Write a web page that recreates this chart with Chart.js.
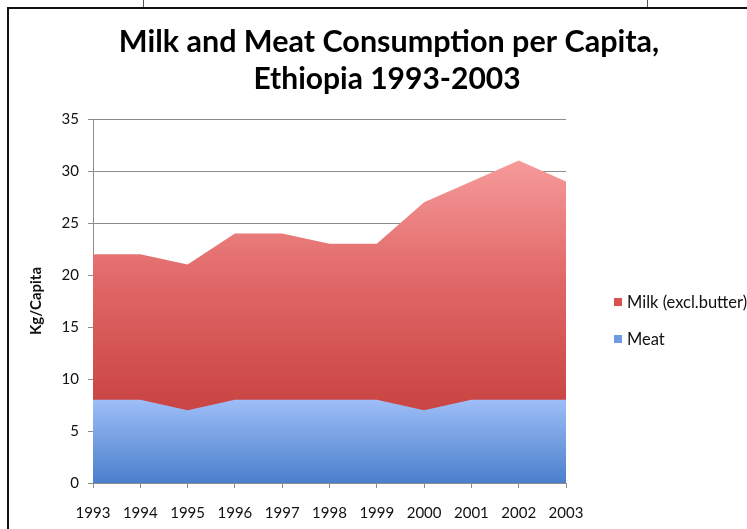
<!DOCTYPE html>
<html>
<head>
<meta charset="utf-8">
<script src="https://cdn.jsdelivr.net/npm/chart.js@4/dist/chart.umd.min.js"></script>
<style>
  html, body { margin: 0; padding: 0; background: #fff; overflow: hidden; }
  #wrap { position: relative; width: 747px; height: 529px; }
  #frame { position: absolute; left: 7px; top: 7px; right: 0; bottom: 0;
           border-left: 2px solid #111; border-top: 2px solid #111; }
  .tick { position: absolute; top: 0; width: 1px; height: 8px; background: #555; }
  canvas { position: absolute; left: 0; top: 0; }
</style>
</head>
<body>
<div id="wrap">
  <div class="tick" style="left:143px"></div>
  <div class="tick" style="left:647px"></div>
  <div id="frame"></div>
  <canvas id="chart" width="747" height="529"></canvas>
</div>
<script>
const years = ['1993', '1994', '1995', '1996', '1997', '1998', '1999', '2000', '2001', '2002', '2003'];
const milk = [22, 22, 21, 24, 24, 23, 23, 27, 29, 31, 29];
const meat = [8, 8, 7, 8, 8, 8, 8, 7, 8, 8, 8];
const seriesNames = ['Milk (excl.butter)', 'Meat'];
const titleLines = ['Milk and Meat Consumption per Capita,', 'Ethiopia 1993-2003'];

const FONT = 'Lato, "Open Sans", sans-serif';

function milkFill(context) {
    const chart = context.chart;
    if (!chart.chartArea) return '#d85a58';
    const y = chart.scales.y;
    const g = chart.ctx.createLinearGradient(0, y.getPixelForValue(Math.max(...milk)), 0, y.getPixelForValue(0));
    g.addColorStop(0, '#f69a9a');
    g.addColorStop(0.35, '#e26a6a');
    g.addColorStop(0.72, '#cc4846');
    g.addColorStop(1, '#c03a38');
    return g;
}

function meatFill(context) {
    const chart = context.chart;
    if (!chart.chartArea) return '#6b9be0';
    const y = chart.scales.y;
    const g = chart.ctx.createLinearGradient(0, y.getPixelForValue(Math.max(...meat)), 0, y.getPixelForValue(0));
    g.addColorStop(0, '#9ebef7');
    g.addColorStop(1, '#4a7fcc');
    return g;
}

// title and legend drawn by hand so they sit where the original has them
const decorPlugin = {
    id: 'decor',
    afterDraw(chart) {
        const ctx = chart.ctx;
        ctx.save();
        ctx.fillStyle = '#000';
        ctx.textAlign = 'center';
        ctx.textBaseline = 'middle';
        ctx.font = `bold 30.5px ${FONT}`;
        ctx.fillText(titleLines[0], 389, 42);
        ctx.font = `bold 30px ${FONT}`;
        ctx.fillText(titleLines[1], 387, 79);

        const swatches = ['#d9534f', '#6c9be2'];
        ctx.textAlign = 'left';
        ctx.font = `16.5px ${FONT}`;
        seriesNames.forEach((name, i) => {
            const yy = 303 + i * 37;
            ctx.fillStyle = swatches[i];
            ctx.fillRect(614, yy - 5, 8, 8);
            ctx.fillStyle = '#111';
            ctx.fillText(name, 627, yy);
        });
        ctx.restore();
    }
};

new Chart(document.getElementById('chart'), {
    type: 'line',
    data: {
        labels: years,
        datasets: [
            {
                label: seriesNames[0],
                data: milk,
                fill: 'origin',
                backgroundColor: milkFill,
                borderWidth: 0,
                pointRadius: 0,
                tension: 0,
                order: 2
            },
            {
                label: seriesNames[1],
                data: meat,
                fill: 'origin',
                backgroundColor: meatFill,
                borderWidth: 0,
                pointRadius: 0,
                tension: 0,
                order: 1
            }
        ]
    },
    options: {
        responsive: false,
        animation: false,
        layout: { padding: { left: 0, right: 181, top: 119, bottom: 0 } },
        plugins: {
            legend: { display: false },
            title: { display: false },
            tooltip: { enabled: false }
        },
        scales: {
            x: {
                offset: false,
                afterFit: s => { s.height = 46; },
                grid: { drawOnChartArea: false, color: '#8c8c8c', tickLength: 5 },
                border: { color: '#8c8c8c' },
                ticks: { color: '#111', font: { family: FONT, size: 15 }, padding: 16, maxRotation: 0, autoSkip: false }
            },
            y: {
                min: 0,
                max: 35,
                afterFit: s => { s.width = 93; },
                grid: { color: '#8c8c8c', tickLength: 5 },
                border: { color: '#8c8c8c' },
                ticks: { stepSize: 5, color: '#111', font: { family: FONT, size: 15 }, padding: 9 },
                title: {
                    display: true,
                    text: 'Kg/Capita',
                    color: '#111',
                    font: { family: FONT, size: 15, weight: 'bold' },
                    padding: { top: 27, bottom: 0 }
                }
            }
        }
    },
    plugins: [decorPlugin]
});
</script>
</body>
</html>
